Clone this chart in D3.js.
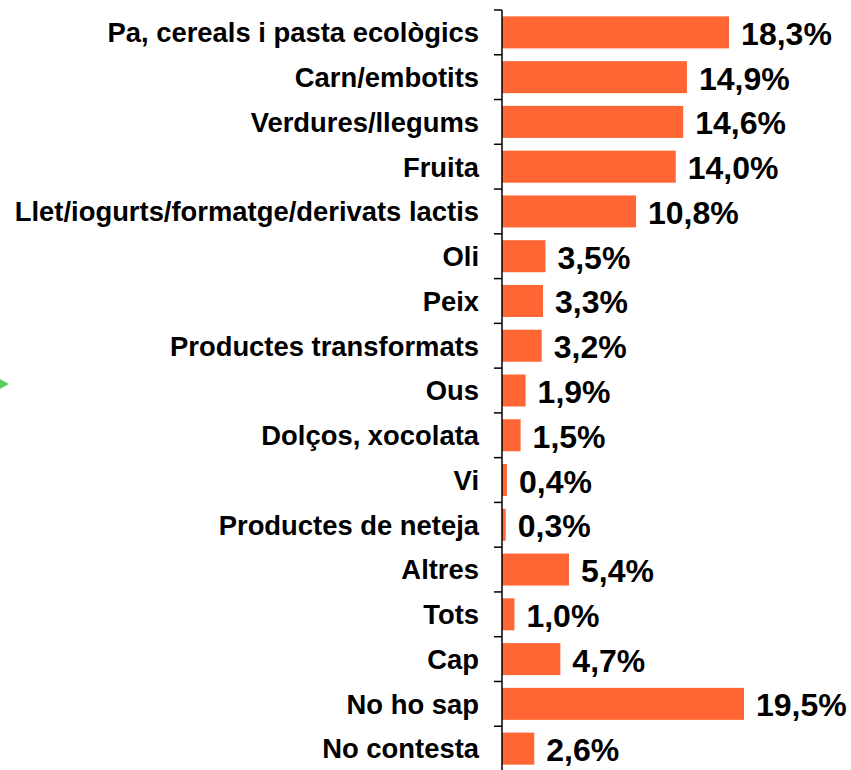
<!DOCTYPE html>
<html>
<head>
<meta charset="utf-8">
<script src="https://cdn.jsdelivr.net/npm/d3@7"></script>
<style>
  body { margin: 0; background: #fff; }
  text { font-family: "Liberation Sans", Arial, sans-serif; font-weight: bold; }
</style>
</head>
<body>
<svg id="chart" width="851" height="770"></svg>
<script>
// --- data
const categories = [
  "Pa, cereals i pasta ecològics",
  "Carn/embotits",
  "Verdures/llegums",
  "Fruita",
  "Llet/iogurts/formatge/derivats lactis",
  "Oli",
  "Peix",
  "Productes transformats",
  "Ous",
  "Dolços, xocolata",
  "Vi",
  "Productes de neteja",
  "Altres",
  "Tots",
  "Cap",
  "No ho sap",
  "No contesta"
];
const values = [18.3, 14.9, 14.6, 14.0, 10.8, 3.5, 3.3, 3.2, 1.9, 1.5, 0.4, 0.3, 5.4, 1.0, 4.7, 19.5, 2.6];

const svg = d3.select("#chart");
const axisX = 502;

const y = d3.scaleBand()
  .domain(categories)
  .range([10, 771])
  .paddingInner(0.285)
  .paddingOuter(0.1425);

const x = d3.scaleLinear()
  .domain([0, 19.5])
  .range([axisX, 744]);

const fmt = v => v.toFixed(1).replace(".", ",") + "%";

// bars
svg.selectAll(".bar").data(values)
  .enter().append("rect")
  .attr("class", "bar")
  .attr("x", x(0))
  .attr("y", (d, i) => y(categories[i]))
  .attr("width", d => x(d) - x(0))
  .attr("height", y.bandwidth())
  .style("fill", "#ff6633");

// value labels
svg.selectAll(".val").data(values)
  .enter().append("text")
  .attr("class", "val")
  .attr("x", d => x(d) + 12)
  .attr("y", (d, i) => y(categories[i]) + y.bandwidth() / 2 + 1)
  .attr("dy", "0.36em")
  .style("font-size", "32px")
  .style("fill", "#000")
  .text(fmt);

// category labels
svg.selectAll(".cat").data(categories)
  .enter().append("text")
  .attr("class", "cat")
  .attr("x", 479)
  .attr("y", d => y(d) + y.bandwidth() / 2)
  .attr("dy", "0.36em")
  .attr("text-anchor", "end")
  .style("font-size", "27.4px")
  .style("fill", "#000")
  .text(d => d);

// axis line with ticks between categories
const r0 = y.range()[0];
svg.append("line")
  .attr("x1", axisX).attr("x2", axisX)
  .attr("y1", r0).attr("y2", 771)
  .style("stroke", "#000").style("stroke-width", 1.5);

svg.selectAll(".tick").data(d3.range(categories.length + 1))
  .enter().append("line")
  .attr("x1", axisX - 8).attr("x2", axisX)
  .attr("y1", i => r0 + i * y.step())
  .attr("y2", i => r0 + i * y.step())
  .style("stroke", "#000").style("stroke-width", 1.5);

// small green marker at the left edge
svg.append("path")
  .attr("d", "M0,379 L9,384 L0,389 Z")
  .style("fill", "#5ccc5c");
</script>
</body>
</html>
